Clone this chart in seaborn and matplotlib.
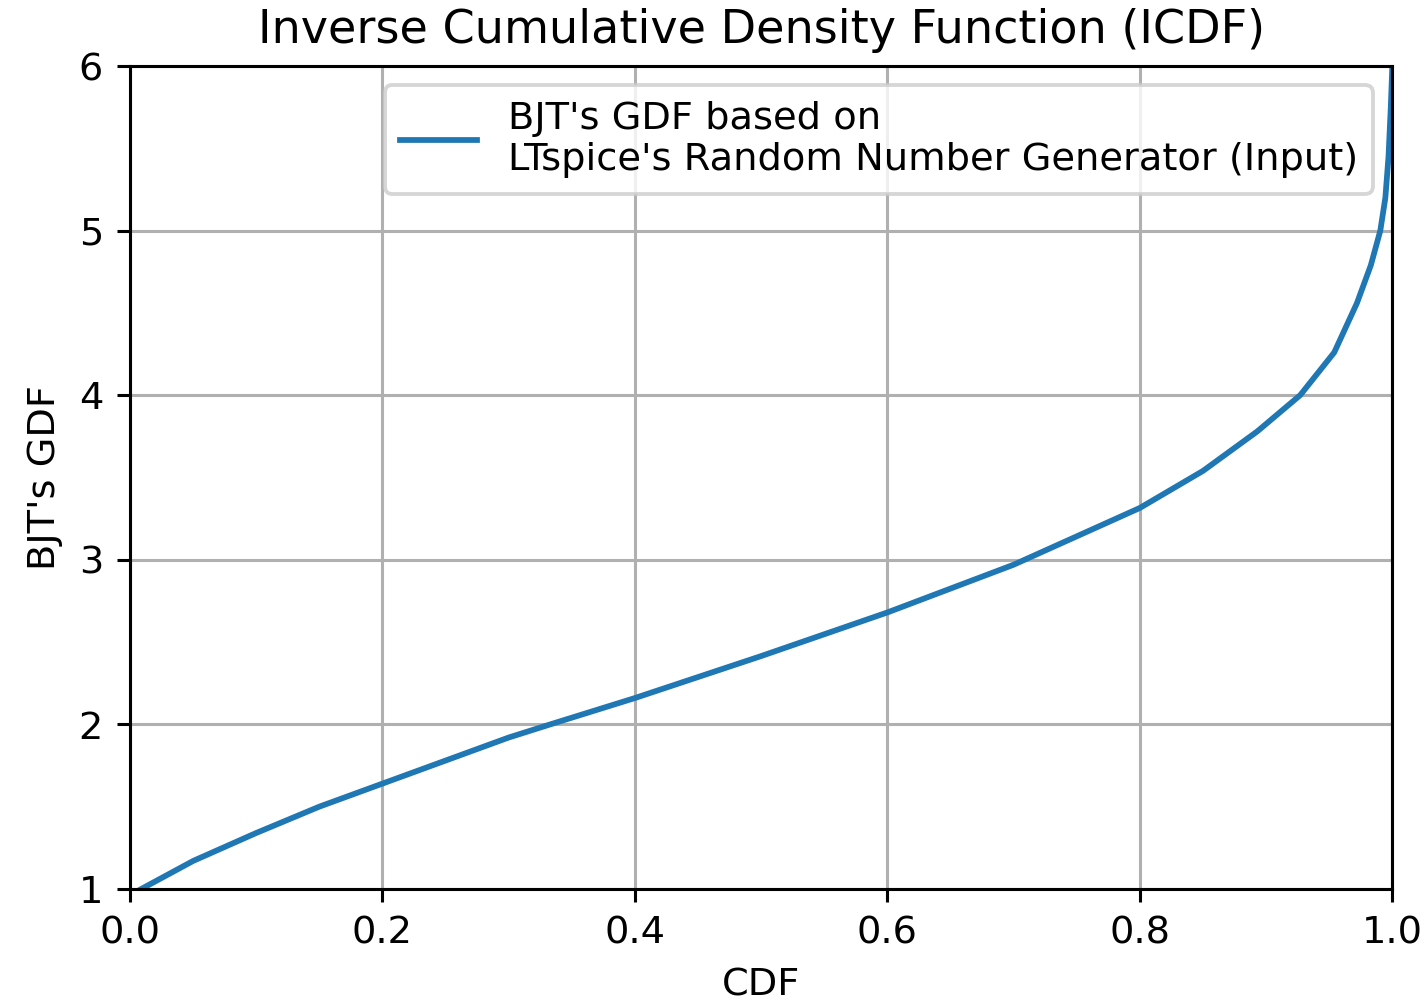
import numpy as np
import pandas as pd
import matplotlib
matplotlib.use("Agg")
import matplotlib.pyplot as plt
import seaborn as sb

# values
cdf = [0.009, 0.05, 0.1, 0.15, 0.2, 0.25, 0.3, 0.333, 0.4, 0.5, 0.6, 0.7,
       0.8, 0.85, 0.893, 0.927, 0.954, 0.972, 0.983, 0.9905, 0.9945, 0.997,
       0.9988, 1.0]
gdf = [1.0, 1.17, 1.34, 1.50, 1.64, 1.78, 1.92, 2.0, 2.16, 2.415, 2.68, 2.97,
       3.315, 3.54, 3.78, 4.0, 4.26, 4.56, 4.79, 5.0, 5.2, 5.45,
       5.75, 6.0]

x_ticks = [0.0, 0.2, 0.4, 0.6, 0.8, 1.0]
y_ticks = [1, 2, 3, 4, 5, 6]

df = pd.DataFrame({"CDF": cdf, "GDF": gdf})

# small inch size with a high dpi, so default matplotlib sizes scale up
fig = plt.figure(figsize=(5.154, 3.628), dpi=276.5)
ax = fig.add_subplot(111)
fig.subplots_adjust(left=0.0912, right=0.977, bottom=0.1137, top=0.934)

sb.lineplot(data=df, x="CDF", y="GDF", ax=ax, color="#1f77b4", linewidth=1.5,
            label="BJT's GDF based on\nLTspice's Random Number Generator (Input)")

ax.set_xlim(0, 1)
ax.set_ylim(1, 6)
ax.set_xticks(x_ticks)
ax.set_yticks(y_ticks)
ax.grid(True)
ax.set_title("Inverse Cumulative Density Function (ICDF)")
ax.set_xlabel("CDF")
ax.set_ylabel("BJT's GDF")
ax.legend(loc="upper right")

fig.savefig("out.png", dpi=276.5)
